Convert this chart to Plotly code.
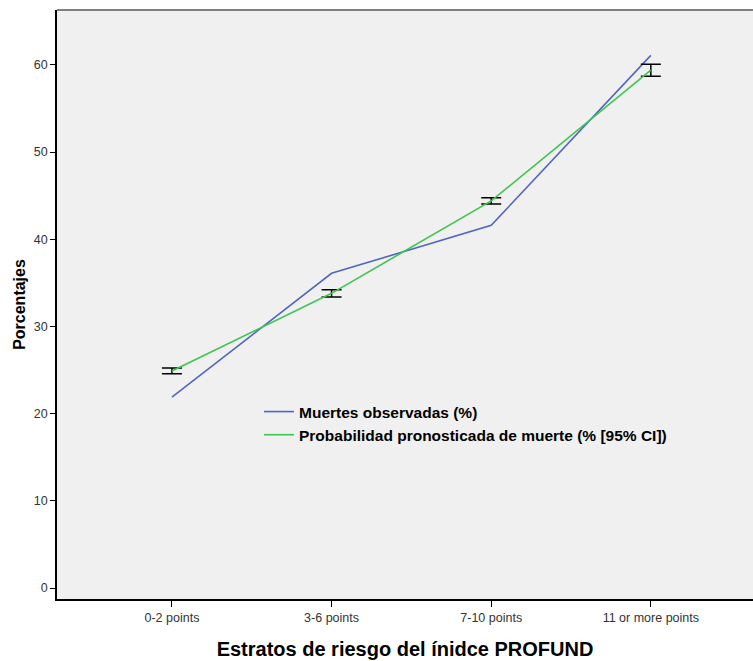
import plotly.graph_objects as go

categories = ["0-2 points", "3-6 points", "7-10 points", "11 or more points"]
observed = [21.9, 36.1, 41.6, 61.1]
predicted = [24.9, 33.8, 44.4, 59.4]
ci_half = [0.33, 0.42, 0.36, 0.69]
y_ticks = [0, 10, 20, 30, 40, 50, 60]

xi = list(range(len(categories)))

fig = go.Figure()
fig.add_trace(go.Scatter(
    x=xi, y=observed, mode="lines", name="Muertes observadas (%)",
    line=dict(color="#5166C0", width=1.6),
))
fig.add_trace(go.Scatter(
    x=xi, y=predicted, mode="lines", name="Probabilidad pronosticada de muerte (% [95% CI])",
    line=dict(color="#3EC54F", width=1.6),
    error_y=dict(type="data", array=ci_half, visible=True, color="black", thickness=1.5, width=10),
))

font_family = "Liberation Sans, Arial, sans-serif"
fig.update_layout(
    width=753, height=661,
    margin=dict(l=57, r=0, t=10, b=62),
    paper_bgcolor="white", plot_bgcolor="#f0f0f0",
    font=dict(family=font_family, size=12.5, color="#333333"),
    showlegend=True,
    legend=dict(
        x=(259 - 57) / 696, y=(599 - 395) / 589, xanchor="left", yanchor="top",
        bgcolor="rgba(0,0,0,0)", font=dict(size=15.5, color="black", family=font_family, weight="bold"),
        tracegroupgap=0, itemwidth=30,
    ),
    xaxis=dict(
        range=[-0.72, 3.64], tickmode="array", tickvals=xi, ticktext=categories,
        showgrid=False, zeroline=False, showline=True, linecolor="black", linewidth=1.5,
        ticks="outside", ticklen=6, tickcolor="black", tickwidth=1,
        title=dict(text="Estratos de riesgo del ínidce PROFUND", standoff=18,
                   font=dict(size=20, color="black", family=font_family, weight="bold")),
    ),
    yaxis=dict(
        range=[-1.26, 66.3], tickmode="array", tickvals=y_ticks,
        showgrid=False, zeroline=False, showline=True, linecolor="black", linewidth=1.5,
        ticks="outside", ticklen=5, tickcolor="black", tickwidth=1, ticklabelstandoff=0,
        title=dict(text="Porcentajes", standoff=4,
                   font=dict(size=16, color="black", family=font_family, weight="bold")),
    ),
    shapes=[dict(type="line", xref="paper", yref="paper", x0=0, x1=1, y0=1, y1=1,
                 line=dict(color="#808080", width=2))],
)

fig.write_html("out.html")
